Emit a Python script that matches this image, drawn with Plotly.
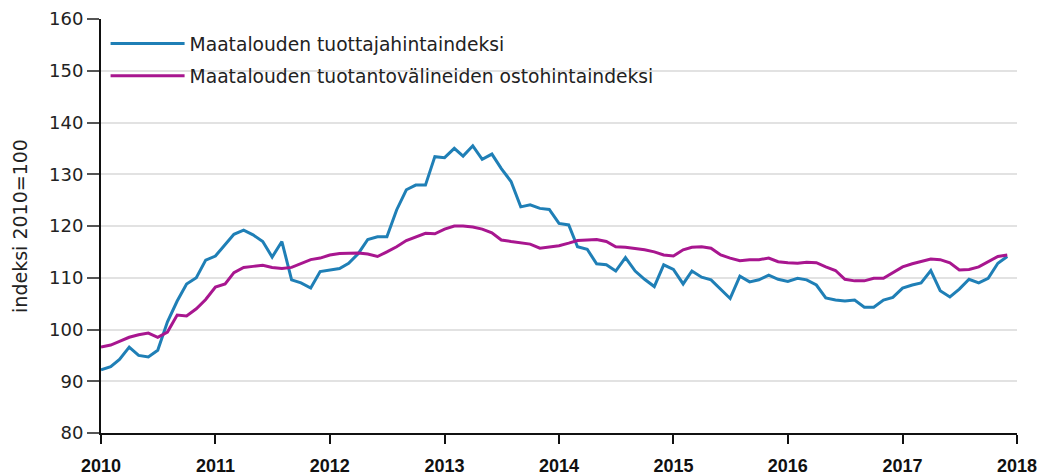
import plotly.graph_objects as go
import pandas as pd

# Monthly data, 2010-01 ... 2017-12
months = pd.date_range("2010-01-01", "2017-12-01", freq="MS")

tuottajahinta = [
    92.2, 92.8, 94.2, 96.6, 95.0, 94.7, 96.0, 101.5, 105.5, 108.8, 110.0, 113.4,
    114.2, 116.3, 118.4, 119.2, 118.3, 117.0, 114.0, 117.0, 109.6, 109.0, 108.0, 111.2,
    111.5, 111.8, 112.8, 114.7, 117.4, 117.9, 117.9, 123.1, 127.0, 127.9, 127.9, 133.4,
    133.2, 135.0, 133.5, 135.5, 132.9, 133.9, 131.1, 128.6, 123.7, 124.1, 123.4, 123.2,
    120.5, 120.2, 116.0, 115.5, 112.7, 112.5, 111.3, 113.9, 111.3, 109.7, 108.3, 112.5,
    111.6, 108.8, 111.3, 110.1, 109.6, 107.8, 106.0, 110.3, 109.2, 109.6, 110.5, 109.7,
    109.3, 109.9, 109.6, 108.6, 106.1, 105.7, 105.5, 105.7, 104.3, 104.3, 105.7, 106.2,
    108.0, 108.6, 109.0, 111.4, 107.5, 106.3, 107.8, 109.7, 109.0, 109.9, 112.8, 114.1,
]

ostohinta = [
    96.6, 97.0, 97.7, 98.5, 99.0, 99.3, 98.5, 99.5, 102.8, 102.6, 104.0, 105.8,
    108.2, 108.8, 111.0, 112.0, 112.2, 112.4, 112.0, 111.8, 112.0, 112.8, 113.5, 113.8,
    114.4, 114.7, 114.8, 114.8, 114.6, 114.1, 115.0, 116.0, 117.2, 117.9, 118.6, 118.5,
    119.4, 120.0, 120.0, 119.8, 119.4, 118.7, 117.3, 117.0, 116.8, 116.5, 115.7, 115.9,
    116.2, 116.7, 117.2, 117.3, 117.4, 117.0, 116.0, 115.9, 115.7, 115.4, 115.0, 114.4,
    114.2, 115.4, 115.9, 116.0, 115.7, 114.4, 113.8, 113.3, 113.5, 113.5, 113.8, 113.1,
    112.9, 112.8, 113.0, 112.9, 112.1, 111.4, 109.7, 109.4, 109.4, 109.9, 109.9, 110.9,
    112.1, 112.7, 113.1, 113.6, 113.5, 112.9, 111.5, 111.6, 112.1, 113.1, 114.1, 114.4,
]

series_names = [
    "Maatalouden tuottajahintaindeksi",
    "Maatalouden tuotantovälineiden ostohintaindeksi",
]
series_colors = ["#1f7fb6", "#a8168f"]

year_labels = ["2010", "2011", "2012", "2013", "2014", "2015", "2016", "2017", "2018"]
year_ticks = [f"{y}-01-01" for y in year_labels]
y_ticks = [80, 90, 100, 110, 120, 130, 140, 150, 160]

fig = go.Figure()
for i, (name, vals) in enumerate(zip(series_names, [tuottajahinta, ostohinta])):
    fig.add_trace(go.Scatter(
        x=months, y=vals, mode="lines", name=name,
        legendgroup=f"g{i}",
        line=dict(color=series_colors[i], width=3),
    ))

fig.update_layout(
    width=1043, height=476,
    margin=dict(l=101, r=26, t=19, b=43),
    paper_bgcolor="white", plot_bgcolor="white",
    font=dict(family="DejaVu Sans", size=17, color="#222222"),
    showlegend=True,
    legend=dict(
        x=0.005, y=0.986, xanchor="left", yanchor="top",
        bgcolor="rgba(255,255,255,0)",
        font=dict(family="DejaVu Sans", size=18.7, color="#222222"),
        itemwidth=74,
        traceorder="grouped",
        tracegroupgap=5,
    ),
    xaxis=dict(
        type="date",
        range=[year_ticks[0], year_ticks[-1]],
        tickvals=year_ticks, ticktext=year_labels,
        showgrid=False, zeroline=False,
        showline=True, linecolor="#111111", linewidth=2,
        ticks="outside", ticklen=9, tickwidth=2, tickcolor="#111111",
        ticklabelstandoff=6,
        automargin=False,
        tickfont=dict(family="Liberation Sans", size=18, color="#111111", weight="bold"),
    ),
    yaxis=dict(
        range=[80, 160],
        tickvals=y_ticks,
        showgrid=True, gridcolor="#e2e2e2", gridwidth=2,
        zeroline=False,
        showline=True, linecolor="#111111", linewidth=2,
        ticks="outside", ticklen=12, tickwidth=2, tickcolor="#555555",
        automargin=False,
        tickfont=dict(family="DejaVu Sans", size=18, color="#222222"),
        title=dict(text="indeksi 2010=100", font=dict(family="DejaVu Sans", size=19, color="#222222"), standoff=16),
    ),
)

fig.write_html("out.html")
